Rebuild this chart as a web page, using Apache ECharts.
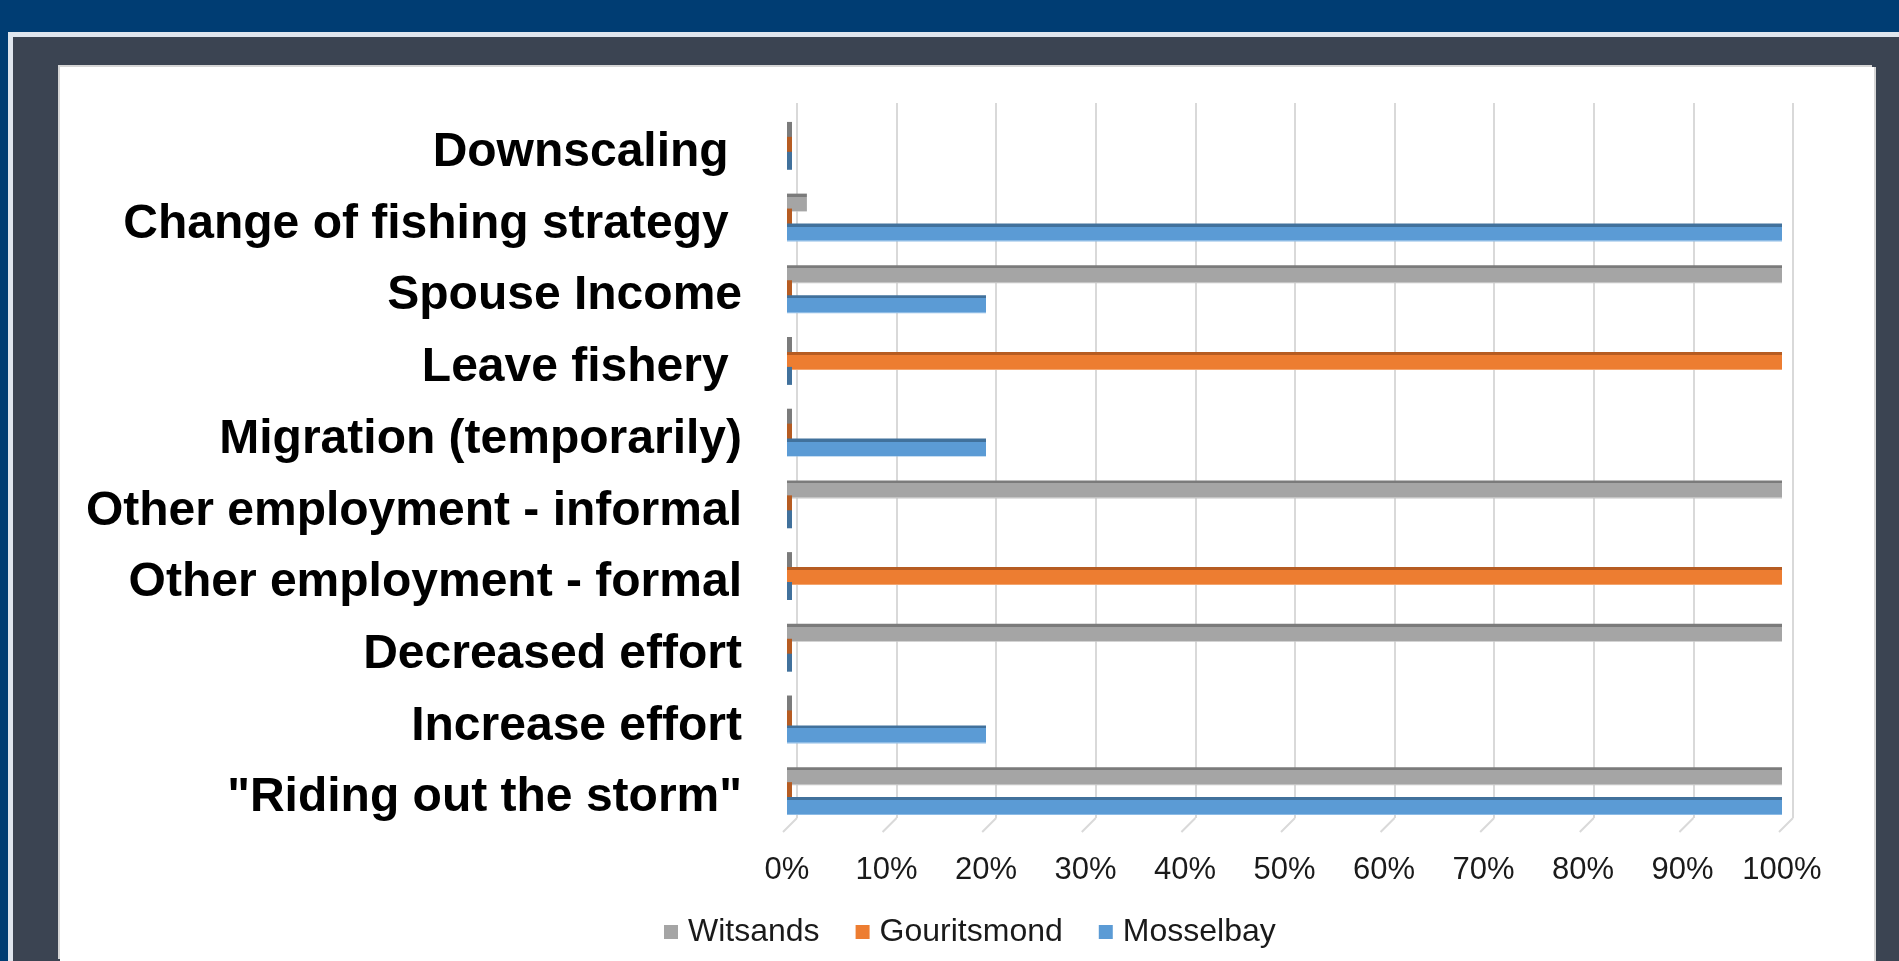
<!DOCTYPE html>
<html>
<head>
<meta charset="utf-8">
<script src="https://cdn.jsdelivr.net/npm/echarts@6/dist/echarts.min.js"></script>
<style>
  html, body { margin: 0; padding: 0; width: 1899px; height: 961px; overflow: hidden; background: #003d73; }
  .edge { position: absolute; left: 8px; top: 32px; right: 0; bottom: 0; background: #dfe6ee; }
  .frame { position: absolute; left: 13px; top: 37px; right: 0; bottom: 0; background: #3b4452; }
  #chart { position: absolute; left: 60px; top: 67px; width: 1814px; height: 894px; background: #fff;
           box-shadow: -2px -2px 0 #d6d6d6, 2px 0 0 #d6d6d6; }
</style>
</head>
<body>
<div class="edge"></div>
<div class="frame"></div>
<div id="chart"></div>
<script>
const categories = [
  "Downscaling ",
  "Change of fishing strategy ",
  "Spouse Income",
  "Leave fishery ",
  "Migration (temporarily)",
  "Other employment - informal",
  "Other employment - formal",
  "Decreased effort",
  "Increase effort",
  "\"Riding out the storm\""
];
const witsands = [0, 2, 100, 0, 0, 100, 0, 100, 0, 100];
const gouritsmond = [0, 0, 0, 100, 0, 0, 100, 0, 0, 0];
const mosselbay = [0, 100, 20, 0, 20, 0, 0, 0, 20, 100];
const xTicks = [0, 10, 20, 30, 40, 50, 60, 70, 80, 90, 100];

const font = "'Liberation Sans', Arial, sans-serif";

const palette = {
  Witsands: { main: "#a5a5a5", dark: "#7b7b7b", light: "#c4c4c4" },
  Gouritsmond: { main: "#ed7d31", dark: "#b65c22", light: "#f3a56f" },
  Mosselbay: { main: "#5b9bd5", dark: "#41719c", light: "#8dbbe5" }
};

// front face with a darker top strip, like the 3D bars of the original
function faceColor(p) {
  return {
    type: "linear", x: 0, y: 0, x2: 0, y2: 1,
    colorStops: [
      { offset: 0, color: p.dark },
      { offset: 0.17, color: p.dark },
      { offset: 0.17, color: p.main },
      { offset: 0.94, color: p.main },
      { offset: 0.94, color: p.light },
      { offset: 1, color: p.light }
    ]
  };
}

function barSeries(name, values) {
  const p = palette[name];
  return {
    name: name,
    type: "bar",
    xAxisIndex: 1,
    yAxisIndex: 1,
    barWidth: 18,
    barGap: "-17%",
    barMinHeight: 5,
    itemStyle: { color: faceColor(p) },
    data: values.map((v) => (v === 0 ? { value: v, itemStyle: { color: p.dark } } : v))
  };
}

const chart = echarts.init(document.getElementById("chart"), null, { renderer: "canvas" });

chart.setOption({
  animation: false,
  textStyle: { fontFamily: font },
  grid: [
    // back wall with the gridlines
    { left: 737, width: 996, top: 36, height: 715 },
    // front plane with bars and labels
    { left: 727, width: 995, top: 43, height: 717 }
  ],
  legend: {
    left: 604,
    top: 849,
    padding: 0,
    itemWidth: 14,
    itemHeight: 14,
    itemGap: 36,
    icon: "rect",
    textStyle: { fontFamily: font, fontSize: 32, color: "#1a1a1a", padding: [0, 0, 0, 5] },
    data: Object.keys(palette).map((name) => ({ name: name, itemStyle: { color: palette[name].main } }))
  },
  xAxis: [
    {
      gridIndex: 0, type: "value", min: 0, max: 100, interval: 10,
      axisLine: { show: false }, axisTick: { show: false }, axisLabel: { show: false },
      splitLine: { show: true, lineStyle: { color: "#d9d9d9", width: 2 } }
    },
    {
      gridIndex: 1, type: "value", min: 0, max: 100, interval: 10,
      axisLine: { show: false }, axisTick: { show: false }, splitLine: { show: false },
      axisLabel: { margin: 28, fontSize: 31, color: "#1a1a1a", fontFamily: font, formatter: "{value}%" }
    }
  ],
  yAxis: [
    { gridIndex: 0, type: "value", min: 0, max: 1, show: false },
    {
      gridIndex: 1, type: "category", inverse: true, data: categories,
      axisLine: { show: false }, axisTick: { show: false },
      axisLabel: {
        margin: 45,
        formatter: (v) => "{t|" + v + "}",
        rich: {
          t: { fontSize: 48, fontWeight: "bold", color: "#000", fontFamily: font, padding: [14, 0, 0, 0] }
        }
      }
    }
  ],
  series: [
    {
      // slanted floor ticks under each gridline
      type: "custom",
      xAxisIndex: 0,
      yAxisIndex: 0,
      silent: true,
      data: xTicks,
      renderItem: (params, api) => {
        const pt = api.coord([api.value(0), 0]);
        return {
          type: "line",
          shape: { x1: pt[0], y1: pt[1], x2: pt[0] - 14, y2: pt[1] + 14 },
          style: { stroke: "#d9d9d9", lineWidth: 2 }
        };
      }
    },
    barSeries("Witsands", witsands),
    barSeries("Gouritsmond", gouritsmond),
    barSeries("Mosselbay", mosselbay)
  ]
});
</script>
</body>
</html>
